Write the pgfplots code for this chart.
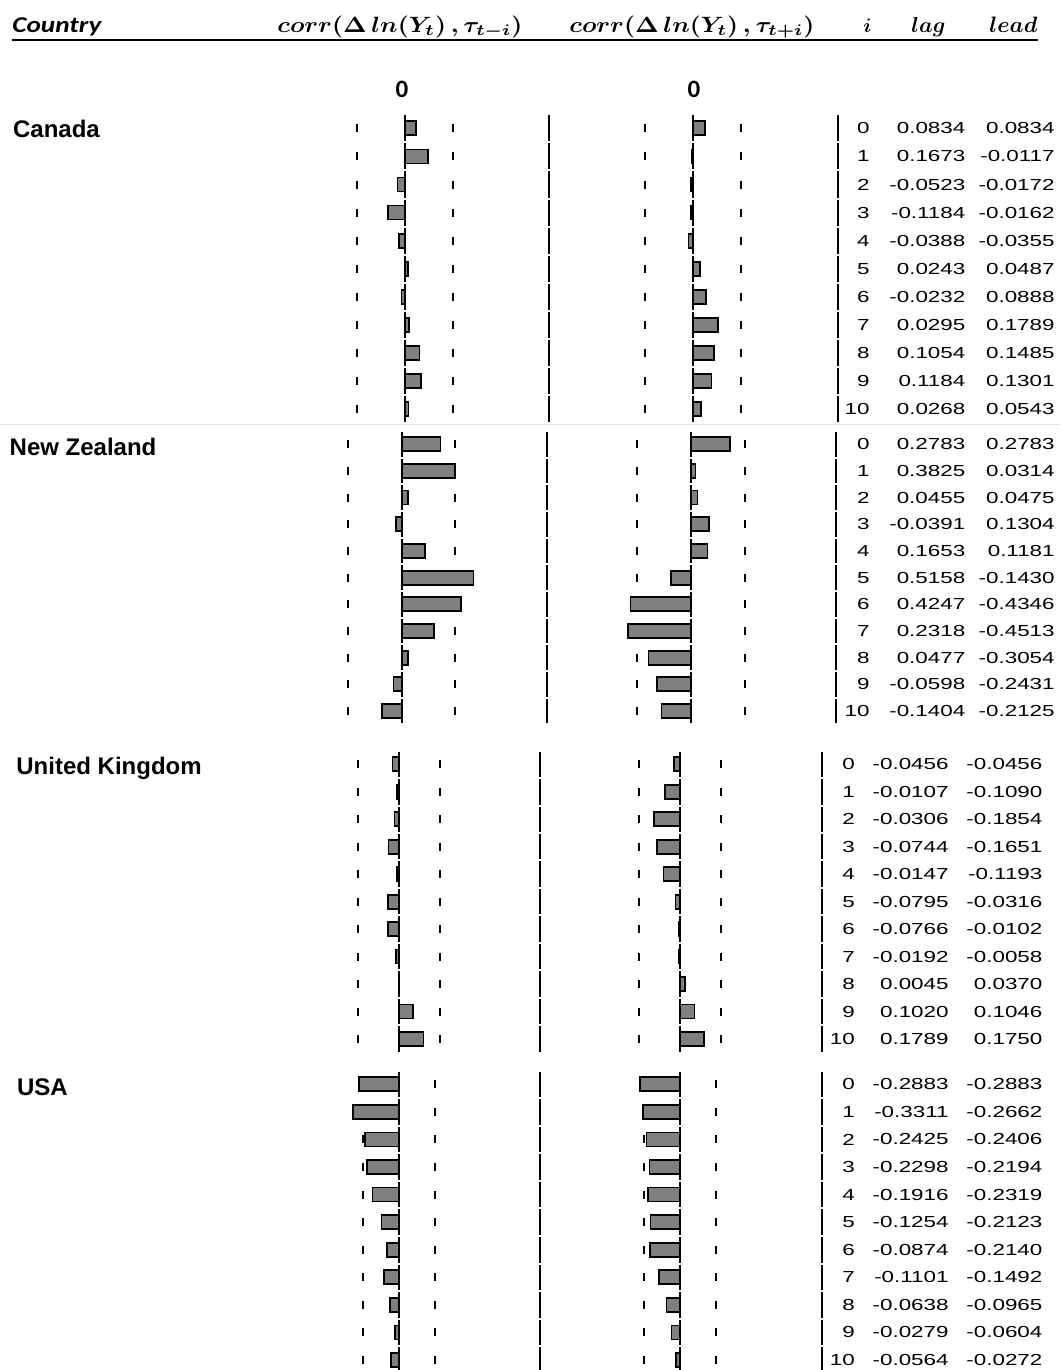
\documentclass[border=0pt]{standalone}
\usepackage{graphicx}
\usepackage{pgfplots}
\pgfplotsset{compat=1.18}
\usepackage{pgfplotstable}
\usepackage{fontspec}
\setmainfont{Liberation Sans}
\newfontfamily\tabfont[FakeStretch=1.4]{Liberation Sans}
\newfontfamily\calfont{Carlito}

\pgfplotstableread{
i lag lead
0 0.0834 0.0834
1 0.1673 -0.0117
2 -0.0523 -0.0172
3 -0.1184 -0.0162
4 -0.0388 -0.0355
5 0.0243 0.0487
6 -0.0232 0.0888
7 0.0295 0.1789
8 0.1054 0.1485
9 0.1184 0.1301
10 0.0268 0.0543
}\canada

\pgfplotstableread{
i lag lead
0 0.2783 0.2783
1 0.3825 0.0314
2 0.0455 0.0475
3 -0.0391 0.1304
4 0.1653 0.1181
5 0.5158 -0.1430
6 0.4247 -0.4346
7 0.2318 -0.4513
8 0.0477 -0.3054
9 -0.0598 -0.2431
10 -0.1404 -0.2125
}\newzealand

\pgfplotstableread{
i lag lead
0 -0.0456 -0.0456
1 -0.0107 -0.1090
2 -0.0306 -0.1854
3 -0.0744 -0.1651
4 -0.0147 -0.1193
5 -0.0795 -0.0316
6 -0.0766 -0.0102
7 -0.0192 -0.0058
8 0.0045 0.0370
9 0.1020 0.1046
10 0.1789 0.1750
}\uk

\pgfplotstableread{
i lag lead
0 -0.2883 -0.2883
1 -0.3311 -0.2662
2 -0.2425 -0.2406
3 -0.2298 -0.2194
4 -0.1916 -0.2319
5 -0.1254 -0.2123
6 -0.0874 -0.2140
7 -0.1101 -0.1492
8 -0.0638 -0.0965
9 -0.0279 -0.0604
10 -0.0564 -0.0272
}\usa

\pgfplotsset{
  panel/.style={hide axis, clip=false, x=69.5pt, y dir=reverse,
    xmin=-1, xmax=1, ymin=-0.5, ymax=10.5, anchor=north west},
  zline/.style 2 args={black, line width=1pt, dash pattern=on #1pt off 1pt, dash phase=#2pt},
  band/.style={black, only marks, mark=|, mark size=2pt, mark options={line width=1pt, solid}},
  cbar/.style={xbar, bar width=7pt, fill=black!50, draw=black, line width=0.85pt},
  tab/.style={only marks, mark=*, mark size=0pt, mark options={draw=none, fill=none},
    nodes near coords, point meta=explicit symbolic,
    nodes near coords style={anchor=east, inner sep=0pt, text=black,
      font=\fontsize{8}{9}\selectfont\tabfont}},
}

% #1 table, #2 column, #3 nw x, #4 nw y, #5 step, #6 dash on, #7 dash phase, #8 band
\newcommand{\barpanel}[8]{%
  \begin{axis}[panel, at={(#3pt,-#4pt)}, y=#5pt]
    \addplot[zline={#6}{#7}] coordinates {(0,-0.5) (0,10.5)};
    \addplot[band] table[x expr=-#8, y=i] {#1};
    \addplot[band] table[x expr=#8, y=i] {#1};
  \end{axis}
  \begin{axis}[panel, at={(#3pt,-#4pt)}, y=#5pt]
    \addplot[cbar] table[x=#2, y=i] {#1};
  \end{axis}}

% separators: #1 nw x, #2 nw y, #3 step, #4 dash on, #5 dash phase, #6 sepL, #7 sepR
\newcommand{\seppanel}[7]{%
  \begin{axis}[panel, at={(#1pt,-#2pt)}, y=#3pt]
    \addplot[zline={#4}{#5}] coordinates {(#6,-0.5) (#6,10.5)};
    \addplot[zline={#4}{#5}] coordinates {(#7,-0.5) (#7,10.5)};
  \end{axis}}

% #1 table, #2 nw x, #3 nw y, #4 step, #5 i-col, #6 lag-col, #7 lead-col
\newcommand{\tabpanel}[7]{%
  \begin{axis}[panel, at={(#2pt,-#3pt)}, y=#4pt]
    \addplot[tab] table[x expr=#5, y=i, meta=i] {#1};
    \addplot[tab] table[x expr=#6, y=i, meta=lag] {#1};
    \addplot[tab] table[x expr=#7, y=i, meta=lead] {#1};
  \end{axis}}

\newcommand{\hdcorr}[1]{\resizebox{122.5pt}{8.3pt}{\mathversion{bold}$corr(\Delta\,ln(Y_t)\,,\tau_{t#1i})$}}
\newcommand{\hdword}[2]{\resizebox{#1}{!}{\mathversion{bold}$#2$}}

\begin{document}
\begin{tikzpicture}
\useasboundingbox (0,0) rectangle (530pt,-685pt);

% header
\node[anchor=base west, inner sep=0pt] at (6pt,-16.5pt) {\resizebox{44.5pt}{7.4pt}{\calfont\bfseries\itshape Country}};
\node[anchor=base west, inner sep=0pt] at (138.5pt,-16.2pt) {\hdcorr{-}};
\node[anchor=base west, inner sep=0pt] at (284.5pt,-16.2pt) {\hdcorr{+}};
\node[anchor=base west, inner sep=0pt] at (431.5pt,-16.2pt) {\hdword{4pt}{i}};
\node[anchor=base west, inner sep=0pt] at (455.5pt,-16.2pt) {\hdword{17pt}{lag}};
\node[anchor=base west, inner sep=0pt] at (494.5pt,-16.2pt) {\hdword{24pt}{lead}};
\draw[line width=1pt] (6pt,-19.8pt) -- (519pt,-19.8pt);

\node at (201pt,-44.5pt) {\calfont\bfseries\fontsize{12.5}{15}\selectfont 0};
\node at (347pt,-44.5pt) {\calfont\bfseries\fontsize{12.5}{15}\selectfont 0};

\draw[black!12, line width=0.5pt] (0pt,-212pt) -- (530pt,-212pt);

% country labels
\node[anchor=base west, inner sep=0pt, font=\bfseries\fontsize{12}{14}\selectfont] at (6.35pt,-68.65pt) {Canada};
\node[anchor=base west, inner sep=0pt, font=\bfseries\fontsize{12}{14}\selectfont] at (4.65pt,-227.5pt) {New Zealand};
\node[anchor=base west, inner sep=0pt, font=\bfseries\fontsize{12}{14}\selectfont] at (8pt,-387pt) {United Kingdom};
\node[anchor=base west, inner sep=0pt, font=\bfseries\fontsize{12}{14}\selectfont] at (8.35pt,-547.85pt) {USA};

% Canada
\barpanel{\canada}{lag}{132.85}{57.125}{14.05}{13.05}{13.55}{0.345}
\barpanel{\canada}{lead}{277.15}{57.125}{14.05}{13.05}{13.55}{0.345}
\seppanel{277.15}{57.125}{14.05}{13.05}{13.55}{-1.036}{1.043}
\tabpanel{\canada}{277.15}{57.125}{14.05}{1.271}{1.960}{2.602}

% New Zealand
\barpanel{\newzealand}{lag}{131.35}{215.48}{13.335}{12.335}{12.835}{0.385}
\barpanel{\newzealand}{lead}{276.0}{215.48}{13.335}{12.335}{12.835}{0.385}
\seppanel{276.0}{215.48}{13.335}{12.335}{12.835}{-1.038}{1.043}
\tabpanel{\newzealand}{276.0}{215.48}{13.335}{1.288}{1.976}{2.619}

% United Kingdom
\barpanel{\uk}{lag}{129.85}{375.28}{13.735}{12.735}{13.235}{0.295}
\barpanel{\uk}{lead}{270.5}{375.28}{13.735}{12.735}{13.235}{0.295}
\seppanel{270.5}{375.28}{13.735}{12.735}{13.235}{-1.009}{1.022}
\tabpanel{\uk}{270.5}{375.28}{13.735}{1.26}{1.935}{2.61}

% USA
\barpanel{\usa}{lag}{130.0}{535.26}{13.785}{12.785}{13.285}{0.259}
\barpanel{\usa}{lead}{270.5}{535.26}{13.785}{12.785}{13.285}{0.259}
\seppanel{270.5}{535.26}{13.785}{12.785}{13.285}{-1.009}{1.022}
\tabpanel{\usa}{270.5}{535.26}{13.785}{1.26}{1.935}{2.61}

\end{tikzpicture}
\end{document}
